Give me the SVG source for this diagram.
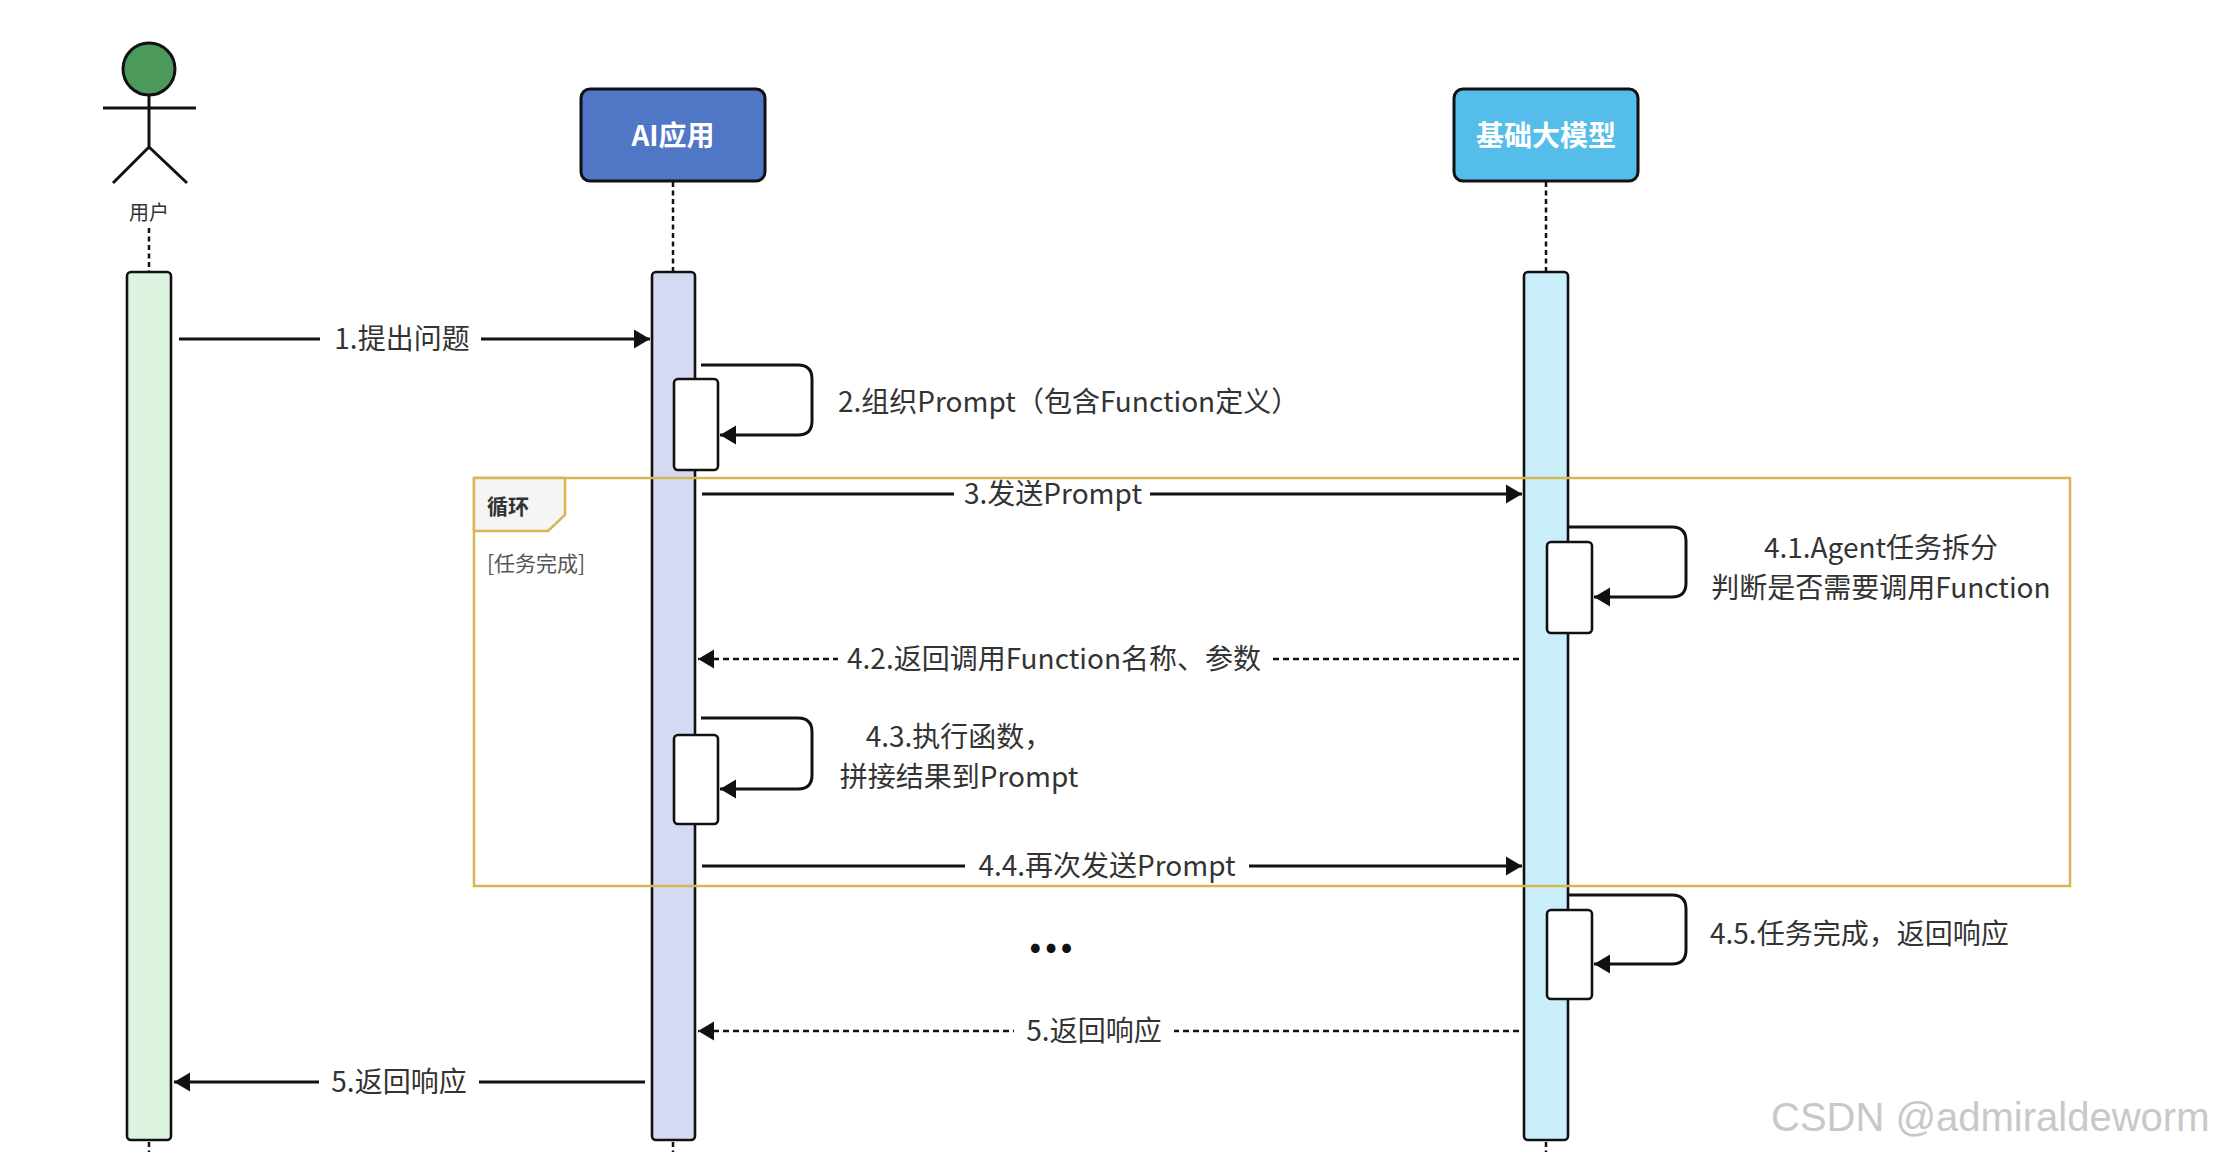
<svg xmlns="http://www.w3.org/2000/svg" width="2226" height="1152" viewBox="0 0 2226 1152">
<defs>
<marker id="arr" markerUnits="userSpaceOnUse" markerWidth="17" markerHeight="20" refX="16" refY="10" orient="auto"><path d="M0,0.5 L16,10 L0,19.5 Z" fill="#111"/></marker>
</defs>
<style>
.ln{stroke:#111;stroke-width:3;fill:none}
.dash{stroke-dasharray:6 4;stroke-width:2.6}
.life{stroke:#111;stroke-width:2.5;stroke-dasharray:5 3.5}
.bar{stroke:#111;stroke-width:2.6}
.act{fill:#fff;stroke:#111;stroke-width:2.6}
.hdr{stroke:#111;stroke-width:3}
.lbl{font-family:"Noto Sans CJK SC","Noto Sans",sans-serif;font-size:28px;fill:#333}
.htxt{font-family:"Noto Sans CJK SC","Noto Sans",sans-serif;font-size:28px;font-weight:bold;fill:#fff;text-anchor:middle}
.mid{text-anchor:middle}
.bg{fill:#fff}
.frm{fill:none;stroke:#d6b656;stroke-width:2.5}
</style>
<rect width="2226" height="1152" fill="#fff"/>

<g id="user">
<circle cx="149" cy="69" r="26" fill="#4b9a5b" stroke="#111" stroke-width="3"/>
<path d="M149,95 V147 M103,108 H196 M149,147 L113,183 M149,147 L187,183" class="ln"/>
<text x="149" y="220" class="lbl mid" style="font-size:20px">用户</text>
<line x1="149" y1="228" x2="149" y2="272" class="life"/>
<rect x="127" y="272" width="44" height="868" rx="4" fill="#dcf3e0" class="bar"/>
<line x1="149" y1="1142" x2="149" y2="1152" class="life"/>
</g>

<g id="ai-app">
<rect x="581" y="89" width="184" height="92" rx="9" fill="#5077c6" class="hdr"/>
<text x="673" y="146" class="htxt">AI应用</text>
<line x1="673" y1="182" x2="673" y2="272" class="life"/>
<rect x="652" y="272" width="43" height="868" rx="4" fill="#d5daf4" class="bar"/>
<line x1="673" y1="1142" x2="673" y2="1152" class="life"/>
<rect x="674" y="379" width="44" height="91" rx="4" class="act"/>
<rect x="674" y="735" width="44" height="89" rx="4" class="act"/>
</g>

<g id="base-model">
<rect x="1454" y="89" width="184" height="92" rx="9" fill="#54bde9" class="hdr"/>
<text x="1546" y="146" class="htxt">基础大模型</text>
<line x1="1546" y1="182" x2="1546" y2="272" class="life"/>
<rect x="1524" y="272" width="44" height="868" rx="4" fill="#cbeefb" class="bar"/>
<line x1="1546" y1="1142" x2="1546" y2="1152" class="life"/>
<rect x="1547" y="542" width="45" height="91" rx="4" class="act"/>
<rect x="1547" y="910" width="45" height="89" rx="4" class="act"/>
</g>

<g id="loop-frame">
<rect x="474" y="478" width="1596" height="408" class="frm"/>
<path d="M474,478 H565 V515 L548,531 H474 Z" fill="#f5f5f5" stroke="#d6b656" stroke-width="2.5"/>
<text x="487" y="514" class="lbl" style="font-size:21px;font-weight:bold">循环</text>
<text x="487" y="571" class="lbl" style="font-size:21px;fill:#555">[任务完成]</text>
</g>

<g id="connectors">
<line x1="179" y1="339" x2="650" y2="339" class="ln" marker-end="url(#arr)"/>
<rect x="320" y="325" width="161" height="30" class="bg"/>
<text x="402" y="349" class="lbl mid">1.提出问题</text>

<path d="M701,365 H798 Q812,365 812,379 V421 Q812,435 798,435 H720" class="ln" marker-end="url(#arr)"/>
<text x="838" y="412" class="lbl">2.组织Prompt（包含Function定义）</text>

<line x1="702" y1="494" x2="1522" y2="494" class="ln" marker-end="url(#arr)"/>
<rect x="954" y="484" width="196" height="22" class="bg"/>
<text x="1053" y="504" class="lbl mid">3.发送Prompt</text>

<path d="M1568,527 H1672 Q1686,527 1686,541 V583 Q1686,597 1672,597 H1594" class="ln" marker-end="url(#arr)"/>
<text x="1881" y="558" class="lbl mid">4.1.Agent任务拆分</text>
<text x="1881" y="598" class="lbl mid">判断是否需要调用Function</text>

<line x1="1519" y1="659" x2="698" y2="659" class="ln dash" marker-end="url(#arr)"/>
<rect x="838" y="645" width="432" height="30" class="bg"/>
<text x="1054" y="669" class="lbl mid">4.2.返回调用Function名称、参数</text>

<path d="M701,718 H798 Q812,718 812,732 V775 Q812,789 798,789 H720" class="ln" marker-end="url(#arr)"/>
<text x="959" y="747" class="lbl mid">4.3.执行函数，</text>
<text x="959" y="787" class="lbl mid">拼接结果到Prompt</text>

<line x1="702" y1="866" x2="1522" y2="866" class="ln" marker-end="url(#arr)"/>
<rect x="965" y="856" width="284" height="22" class="bg"/>
<text x="1107" y="876" class="lbl mid">4.4.再次发送Prompt</text>

<path d="M1568,895 H1672 Q1686,895 1686,909 V950 Q1686,964 1672,964 H1594" class="ln" marker-end="url(#arr)"/>
<text x="1710" y="944" class="lbl">4.5.任务完成，返回响应</text>

<text x="1051" y="952" class="lbl mid" style="font-size:48px;font-weight:bold;fill:#111">...</text>

<line x1="1519" y1="1031" x2="698" y2="1031" class="ln dash" marker-end="url(#arr)"/>
<rect x="1014" y="1017" width="160" height="30" class="bg"/>
<text x="1094" y="1041" class="lbl mid">5.返回响应</text>

<line x1="645" y1="1082" x2="174" y2="1082" class="ln" marker-end="url(#arr)"/>
<rect x="319" y="1068" width="160" height="30" class="bg"/>
<text x="399" y="1092" class="lbl mid">5.返回响应</text>
</g>

<text x="1771" y="1131" style="font-family:'Liberation Sans',Arial,sans-serif;font-size:40px;fill:#c8c8c8">CSDN @admiraldeworm</text>
</svg>
